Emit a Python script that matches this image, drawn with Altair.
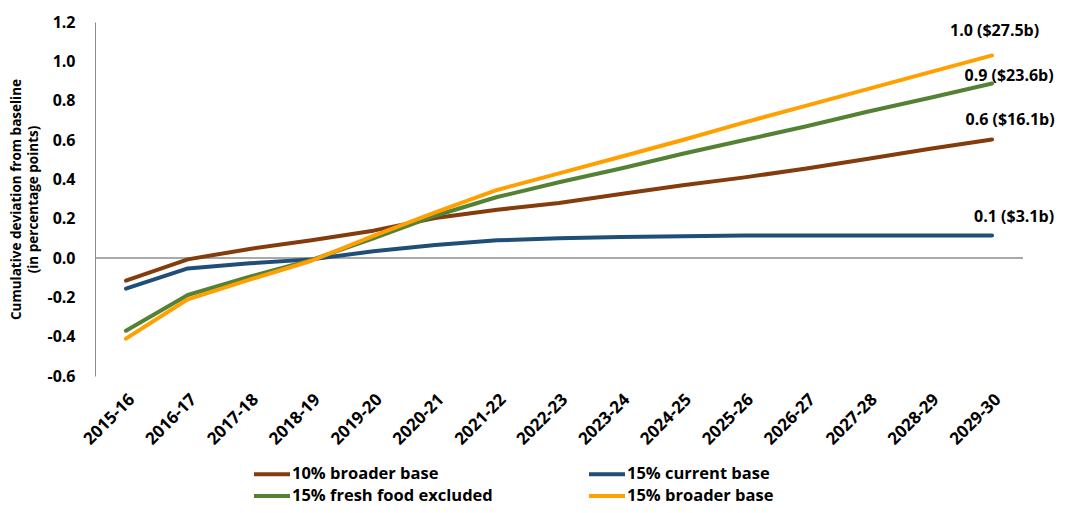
import altair as alt
import pandas as pd

years = ["2015-16", "2016-17", "2017-18", "2018-19", "2019-20", "2020-21", "2021-22",
         "2022-23", "2023-24", "2024-25", "2025-26", "2026-27", "2027-28", "2028-29", "2029-30"]

series_names = ["10% broader base", "15% current base", "15% fresh food excluded", "15% broader base"]
series_colors = ["#843C0C", "#1F4E79", "#548235", "#FFA000"]

broader_10 = [-0.115, -0.007, 0.046, 0.09, 0.139, 0.203, 0.245, 0.28, 0.325, 0.37, 0.41, 0.455, 0.505, 0.555, 0.603]
current_15 = [-0.156, -0.053, -0.027, -0.007, 0.034, 0.066, 0.09, 0.10, 0.107, 0.111, 0.114, 0.115, 0.115, 0.115, 0.115]
fresh_15 = [-0.37, -0.188, -0.095, -0.01, 0.10, 0.215, 0.31, 0.385, 0.455, 0.53, 0.60, 0.67, 0.745, 0.815, 0.887]
broader_15 = [-0.41, -0.21, -0.11, -0.014, 0.112, 0.232, 0.346, 0.43, 0.515, 0.60, 0.69, 0.775, 0.86, 0.945, 1.03]

end_labels = ["0.6 ($16.1b)", "0.1 ($3.1b)", "0.9 ($23.6b)", "1.0 ($27.5b)"]

y_ticks = [-0.6, -0.4, -0.2, 0.0, 0.2, 0.4, 0.6, 0.8, 1.0, 1.2]
y_title = ["Cumulative deviation from baseline", "(in percentage points)"]

all_values = [broader_10, current_15, fresh_15, broader_15]

rows = []
for name, vals in zip(series_names, all_values):
    for yr, v in zip(years, vals):
        rows.append({"year": yr, "series": name, "value": v})
df = pd.DataFrame(rows)

lab_df = pd.DataFrame({
    "year": [years[-1]] * 4,
    "series": series_names,
    "value": [vals[-1] for vals in all_values],
    "label": end_labels,
})

# legend is filled column by column: order so that rows read as in the reference
legend_order = [series_names[0], series_names[2], series_names[1], series_names[3]]
legend_colors = [series_colors[0], series_colors[2], series_colors[1], series_colors[3]]

FONT = "Open Sans"
Y_SCALE = alt.Scale(domain=[-0.6, 1.2], nice=False, zero=False)

AX_X = alt.Axis(labelAngle=-45, domain=False, ticks=False, labelPadding=15,
                labelFont=FONT, labelFontSize=17, labelFontWeight="bold",
                labelColor="#000000", labelOverlap=False)
AX_Y = alt.Axis(values=y_ticks,
                labelExpr="replace(format(datum.value, '.1f'), '\u2212', '-')",
                labelOverlap=False, labelBound=False, labelFlush=False,
                grid=False, ticks=False, domainColor="#8c8c8c", domainWidth=1,
                labelPadding=20, labelFont=FONT, labelFontSize=16,
                labelFontWeight="bold", labelColor="#000000",
                titleFont=FONT, titleFontSize=13.5, titleFontWeight="bold",
                titleColor="#000000", titleLineHeight=17,
                titleX=-79, titleY=177, titleAngle=-90,
                titleAlign="center", titleBaseline="middle")


def x_enc():
    return alt.X("year:N", sort=years, title=None, axis=AX_X)


def y_enc(field="value:Q"):
    return alt.Y(field, scale=Y_SCALE, title=y_title, axis=AX_Y)


zero_rule = alt.Chart(pd.DataFrame({"value": [0.0]})).mark_rule(
    color="#8c8c8c", strokeWidth=1.5
).encode(y=y_enc())

lines = alt.Chart(df).mark_line(strokeWidth=4, strokeCap="round", strokeJoin="round").encode(
    x=x_enc(),
    y=y_enc(),
    color=alt.Color("series:N", sort=legend_order,
                    scale=alt.Scale(domain=legend_order, range=legend_colors),
                    legend=alt.Legend(title=None, orient="none", legendX=165, legendY=440,
                                      columns=2, columnPadding=88, rowPadding=1,
                                      symbolType="M-1.8,0H1.8", symbolStrokeWidth=4,
                                      symbolSize=400,
                                      labelOffset=8, labelFont=FONT, labelFontSize=16.5,
                                      labelFontWeight="bold", labelColor="#000000",
                                      labelLimit=400)),
)

offsets = {
    "10% broader base": (18, -19),
    "15% current base": (22, -18),
    "15% fresh food excluded": (17, -8),
    "15% broader base": (2.5, -24),
}

text_layers = []
for name in series_names:
    dx, dy = offsets[name]
    t = alt.Chart(lab_df).transform_filter(alt.datum.series == name).mark_text(
        font=FONT, fontSize=16, fontWeight="bold", color="#000000",
        align="center", baseline="middle", dx=dx, dy=dy
    ).encode(
        x=x_enc(),
        y=y_enc(),
        text="label:N",
    )
    text_layers.append(t)

chart = alt.layer(zero_rule, lines, *text_layers).properties(
    width=928, height=354,
    autosize=alt.AutoSizeParams(type="none"),
    padding={"left": 87, "top": 14, "right": 39, "bottom": 129},
    background="white",
).configure_view(stroke=None).configure_axis(labelOverlap=False)

chart.save("out.html", embed_options={"renderer": "svg", "actions": False})
